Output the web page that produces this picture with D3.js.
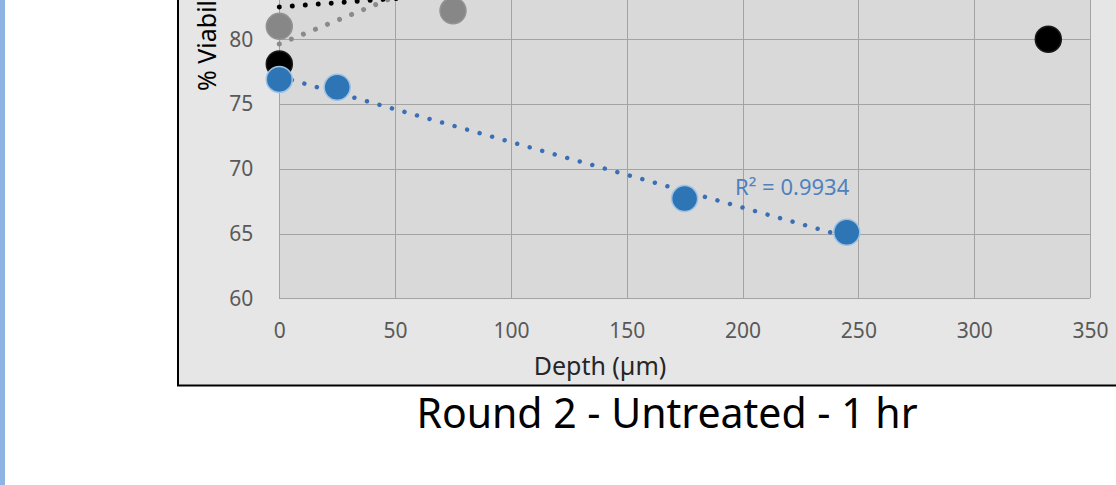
<!DOCTYPE html>
<html>
<head>
<meta charset="utf-8">
<script src="https://cdn.jsdelivr.net/npm/d3@7"></script>
<style>
  html, body { margin: 0; padding: 0; background: #ffffff; }
  svg { display: block; }
  text { font-family: "Noto Sans", "Open Sans", sans-serif; }
</style>
</head>
<body>
<div id="chart"></div>
<script>
// Cell viability against depth in the tissue, three repeats
const depthBlue  = [0, 25, 175, 245];
const viabBlue   = [76.9, 76.3, 67.7, 65.1];
const depthBlack = [0, 332];
const viabBlack  = [78.1, 80.0];
const depthGray  = [0, 75];
const viabGray   = [81.0, 82.2];

// Linear trend coefficients [intercept, slope] and x span for the black and grey repeats
const trendBlack = [82.5, 0.013];
const spanBlack  = [0, 332];
const trendGray  = [79.64, 0.073];
const spanGray   = [0, 75];

const xTicks = [0, 50, 100, 150, 200, 250, 300, 350];
const yTicks = [60, 65, 70, 75, 80];
const yGrid  = [60, 65, 70, 75, 80, 85];
const blueR2Label = "R\u00b2 = 0.9934";

const W = 1116, H = 485;
const svg = d3.select("#chart").append("svg").attr("width", W).attr("height", H);

// left accent strip
svg.append("rect").attr("x", 0).attr("y", 0).attr("width", 5).attr("height", H).attr("fill", "#8db4e2");

// chart frame
svg.append("rect")
  .attr("x", 178).attr("y", -20).attr("width", 1000).attr("height", 405.5)
  .attr("fill", "#e6e6e6").attr("stroke", "#000").attr("stroke-width", 2);

const x = d3.scaleLinear().domain([0, 350]).range([279.3, 1090]);
const y = d3.scaleLinear().domain([60, 90]).range([298.3, 298.3 - 30 * 12.95]);

const plotW = x(350) - x(0);
const plotH = y(60) - y(90);

svg.append("rect")
  .attr("x", x(0)).attr("y", y(90)).attr("width", plotW).attr("height", plotH)
  .attr("fill", "#d9d9d9");

// gridlines
const grid = svg.append("g");
grid.append("g").attr("transform", `translate(0,${y(60)})`)
  .call(d3.axisBottom(x).tickValues(xTicks).tickSize(-plotH).tickFormat(""));
grid.append("g").attr("transform", `translate(${x(0)},0)`)
  .call(d3.axisLeft(y).tickValues(yGrid).tickSize(-plotW).tickFormat(""));
grid.selectAll(".domain").remove();
grid.selectAll("line").attr("stroke", "#a3a3a3").attr("stroke-width", 1).attr("shape-rendering", "crispEdges");

// tick labels
const gx = svg.append("g").attr("transform", `translate(0,${y(60)})`)
  .call(d3.axisBottom(x).tickValues(xTicks).tickSize(0).tickPadding(25).tickFormat(d3.format("d")));
const gy = svg.append("g").attr("transform", `translate(${x(0)},0)`)
  .call(d3.axisLeft(y).tickValues(yTicks).tickSize(0).tickPadding(26).tickFormat(d3.format("d")));
[gx, gy].forEach(g => {
  g.select(".domain").remove();
  g.selectAll("line").remove();
  g.selectAll("text").attr("fill", "#595959").style("font-size", "21px");
});

// trendlines
function fitLine(xs, ys) {
  const mx = d3.mean(xs), my = d3.mean(ys);
  let sxy = 0, sxx = 0;
  xs.forEach((v, i) => { sxy += (v - mx) * (ys[i] - my); sxx += (v - mx) * (v - mx); });
  const b = sxy / sxx;
  return [my - b * mx, b];
}
const trendBlue = fitLine(depthBlue, viabBlue);
const spanBlue = d3.extent(depthBlue);

const line = d3.line().x(d => x(d[0])).y(d => y(d[1]));
function trend(coef, span, color, width) {
  const pts = span.map(v => [v, coef[0] + coef[1] * v]);
  svg.append("path").attr("d", line(pts))
    .attr("fill", "none").attr("stroke", color).attr("stroke-width", width)
    .attr("stroke-linecap", "round").attr("stroke-dasharray", "0.01 13");
}
trend(trendBlack, spanBlack, "#000000", 5);
trend(trendGray, spanGray, "#8a8a8a", 5);
trend(trendBlue, spanBlue, "#3a6fb5", 4.5);

// markers
function markers(xs, ys, color, stroke) {
  svg.append("g").selectAll("circle").data(xs.map((v, i) => [v, ys[i]])).join("circle")
    .attr("cx", d => x(d[0])).attr("cy", d => y(d[1])).attr("r", 13)
    .attr("fill", color).attr("stroke", stroke).attr("stroke-width", 1.5);
}
markers(depthBlack, viabBlack, "#000000", "#1a1a1a");
markers(depthGray, viabGray, "#878787", "#939393");
markers(depthBlue, viabBlue, "#2e75b6", "#9cc2e5");

// R² label for the blue fit
svg.append("text").attr("x", 735).attr("y", 195)
  .attr("fill", "#4f81bd").style("font-size", "22px").text(blueR2Label);

// axis titles
svg.append("text").attr("x", 600).attr("y", 375).attr("text-anchor", "middle")
  .attr("fill", "#262626").style("font-size", "25px").text("Depth (\u00b5m)");
svg.append("text").attr("transform", "translate(216,91) rotate(-90)")
  .attr("fill", "#000").style("font-size", "25px").text("% Viability");

// chart caption
svg.append("text").attr("x", 667).attr("y", 428).attr("text-anchor", "middle")
  .attr("fill", "#000").style("font-size", "41px").text("Round 2 - Untreated - 1 hr");
</script>
</body>
</html>
